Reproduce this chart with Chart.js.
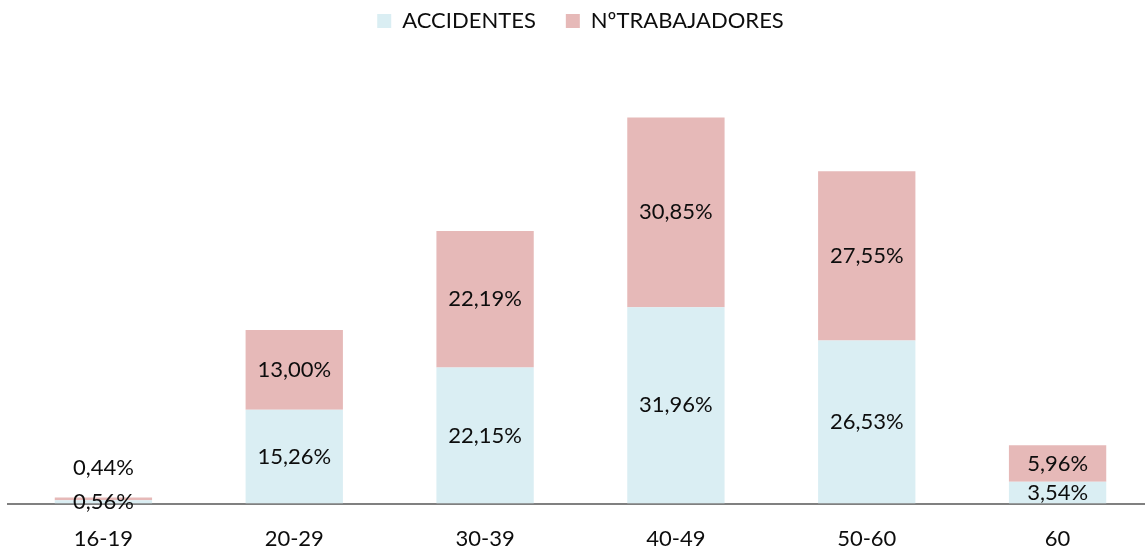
<!DOCTYPE html>
<html>
<head>
<meta charset="utf-8">
<script src="https://cdn.jsdelivr.net/npm/chart.js@4"></script>
<style>
html,body{margin:0;padding:0;background:#fff;overflow:hidden;}
#wrap{width:1145px;height:552px;overflow:hidden;position:relative;}
#c{position:absolute;left:0;top:-20px;}
</style>
</head>
<body>
<div id="wrap"><canvas id="c" width="1153" height="586"></canvas></div>
<script>
const categories = ["16-19", "20-29", "30-39", "40-49", "50-60", "60"];
const accidentes = [0.56, 15.26, 22.15, 31.96, 26.53, 3.54];
const trabajadores = [0.44, 13.00, 22.19, 30.85, 27.55, 5.96];
const seriesNames = ["ACCIDENTES", "NºTRABAJADORES"];

const FONT = "Lato, 'Noto Sans', sans-serif";

const labelPlugin = {
  id: 'barLabels',
  afterDatasetsDraw(chart) {
    const ctx = chart.ctx;
    ctx.save();
    ctx.font = "22px " + FONT;
    ctx.fillStyle = "#0d0d0d";
    ctx.textAlign = "center";
    ctx.textBaseline = "middle";
    chart.data.datasets.forEach((ds, di) => {
      const meta = chart.getDatasetMeta(di);
      meta.data.forEach((el, i) => {
        const v = ds.data[i];
        const txt = v.toFixed(2).replace('.', ',') + '%';
        const top = Math.min(el.y, el.base), bot = Math.max(el.y, el.base);
        let y = (top + bot) / 2;
        if (bot - top < 15 && di === 1) y = top - 30;
        ctx.fillText(txt, el.x, y);
      });
    });
    ctx.restore();
  }
};

new Chart(document.getElementById('c'), {
  type: 'bar',
  data: {
    labels: categories,
    datasets: [
      { label: seriesNames[0], data: accidentes, backgroundColor: '#DAEEF3', borderWidth: 0 },
      { label: seriesNames[1], data: trabajadores, backgroundColor: '#E6B9B8', borderWidth: 0 }
    ]
  },
  options: {
    responsive: false,
    animation: false,
    layout: { padding: { left: 8, right: 0, top: 0, bottom: 0 } },
    plugins: {
      legend: {
        position: 'top',
        labels: {
          font: { family: FONT, size: 22 },
          color: '#0d0d0d',
          boxWidth: 14,
          boxHeight: 14,
          padding: 30
        }
      },
      tooltip: { enabled: false }
    },
    datasets: { bar: { categoryPercentage: 1, barPercentage: 0.51 } },
    scales: {
      x: {
        stacked: true,
        grid: { display: false },
        border: { display: true, color: '#808080', width: 2 },
        ticks: { font: { family: FONT, size: 22 }, color: '#0d0d0d', padding: 14 }
      },
      y: {
        stacked: true,
        display: false,
        min: 0,
        max: 75.1
      }
    }
  },
  plugins: [labelPlugin]
});
</script>
</body>
</html>
